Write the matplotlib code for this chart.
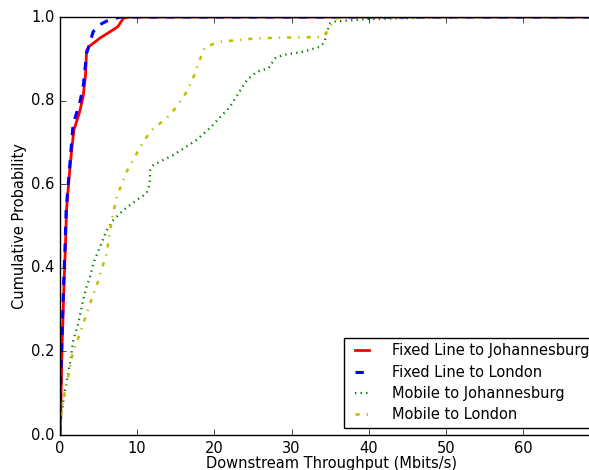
import numpy as np
import matplotlib
matplotlib.use('Agg')
import matplotlib.pyplot as plt

plt.style.use('classic')
plt.rcParams['font.size'] = 10.5

# CDF points (throughput in Mbits/s, cumulative probability)
fixed_jhb_x = [0, 0.1, 0.25, 0.5, 0.7, 0.85, 1.2, 1.5, 1.8, 2.5, 3.0, 3.3, 3.45, 3.8, 4.3, 5.2, 6.5, 7.5, 8.2, 9.0, 70]
fixed_jhb_y = [0, 0.05, 0.2, 0.35, 0.45, 0.54, 0.62, 0.68, 0.73, 0.77, 0.81, 0.86, 0.92, 0.93, 0.937, 0.95, 0.965, 0.977, 0.997, 1.0, 1.0]

fixed_lon_x = [0, 0.05, 0.2, 0.45, 0.65, 0.8, 1.2, 1.7, 2.5, 3.0, 3.45, 4.3, 5.0, 6.0, 7.8, 70]
fixed_lon_y = [0, 0.1, 0.2, 0.35, 0.45, 0.54, 0.63, 0.745, 0.79, 0.833, 0.913, 0.965, 0.98, 0.99, 1.0, 1.0]

mobile_jhb_x = [0, 0.22, 0.65, 1.3, 1.72, 2.37, 3.0, 3.45, 3.9, 4.3, 5.18, 6.05, 6.9, 8.2, 9.93, 11.2, 11.6, 11.7, 12.1,
                14.7, 17.7, 19.4, 22.0, 24.2, 25.5, 27.0, 27.85, 28.9, 31.5, 33.7, 34.3, 34.5, 35.0, 35.4, 39.7, 50.1, 70]
mobile_jhb_y = [0, 0.052, 0.108, 0.172, 0.227, 0.267, 0.323, 0.355, 0.379, 0.41, 0.45, 0.49, 0.514, 0.538, 0.562, 0.578, 0.6, 0.634, 0.646,
                0.67, 0.706, 0.734, 0.785, 0.849, 0.869, 0.877, 0.901, 0.909, 0.917, 0.929, 0.941, 0.961, 0.985, 0.989, 0.995, 0.9995, 1.0]

mobile_lon_x = [0, 0.1, 0.43, 0.87, 1.3, 1.72, 2.6, 3.24, 3.9, 4.75, 6.05, 6.7, 7.34, 8.64, 9.7, 10.8, 11.9, 13.8, 15.1,
                16.4, 17.3, 18.0, 18.8, 20.9, 23.1, 25.5, 29.6, 34.1, 35.0, 35.6, 36.5, 70]
mobile_lon_y = [0, 0.04, 0.084, 0.124, 0.163, 0.203, 0.243, 0.279, 0.315, 0.357, 0.435, 0.514, 0.57, 0.63, 0.666, 0.702, 0.73, 0.758, 0.785,
                0.821, 0.857, 0.893, 0.929, 0.941, 0.945, 0.949, 0.951, 0.952, 0.977, 0.995, 1.0, 1.0]

fig = plt.figure(figsize=(5.89, 4.70), dpi=100, facecolor='white')
# axes run past the right edge of the figure, like the cropped original
ax = fig.add_axes([60 / 589, 35 / 470, 542.5 / 589, 418 / 470])

ax.plot(fixed_jhb_x, fixed_jhb_y, 'r-', lw=2, label='Fixed Line to Johannesburg')
ax.plot(fixed_lon_x, fixed_lon_y, 'b--', lw=2.2, label='Fixed Line to London')
ax.plot(mobile_jhb_x, mobile_jhb_y, 'g:', lw=1.6, label='Mobile to Johannesburg')
ax.plot(mobile_lon_x, mobile_lon_y, 'y-.', lw=1.8, label='Mobile to London')

ax.set_xlim(0, 70.27)
ax.set_ylim(0, 1.0)
ax.set_xticks([0, 10, 20, 30, 40, 50, 60])
ax.set_yticks([0.0, 0.2, 0.4, 0.6, 0.8, 1.0])
ax.set_xlabel('Downstream Throughput (Mbits/s)', labelpad=0)
ax.set_ylabel('Cumulative Probability', labelpad=3)
ax.legend(loc='lower right', fontsize=10.5, handlelength=1.6, handletextpad=1.25,
          labelspacing=0.42)

fig.savefig('out.png', dpi=100, facecolor='white')
